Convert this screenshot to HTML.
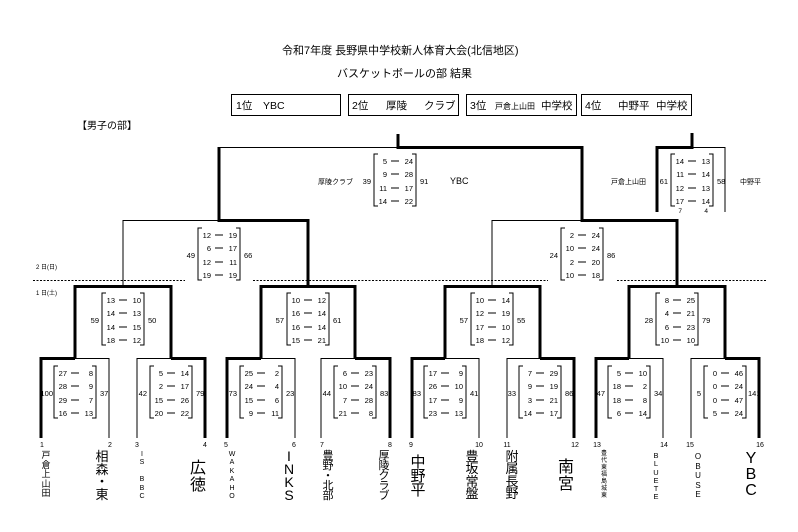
<!DOCTYPE html>
<html><head><meta charset="utf-8"><style>
html,body{margin:0;padding:0;background:#fff;}
body{width:798px;height:532px;position:relative;overflow:hidden;font-family:"Liberation Sans","Noto Sans CJK JP",sans-serif;color:#000;}
svg{position:absolute;left:0;top:0;}
.v{position:absolute;text-align:center;transform:translateX(-50%);white-space:nowrap;}
</style></head><body>
<svg width="798" height="532" viewBox="0 0 798 532" font-family="Liberation Sans, Noto Sans CJK JP, sans-serif">
<defs>
<g id="br"><path d="M4 0H0V52H4M38 0H42V52H38" fill="none" stroke="#000" stroke-width="1"/>
<path d="M17 7H25M17 20H25M17 34H25M17 47H25" stroke="#000" stroke-width="1"/></g>
</defs>
<text x="282" y="54" font-size="11">令和7年度  長野県中学校新人体育大会(北信地区)</text>
<text x="337" y="77" font-size="11">バスケットボールの部  結果</text>
<g fill="none" stroke="#000" stroke-width="1">
<rect x="231.5" y="94.5" width="109" height="21"/>
<rect x="348.5" y="94.5" width="110" height="21"/>
<rect x="466.5" y="94.5" width="110" height="21"/>
<rect x="581.5" y="94.5" width="110" height="21"/>
</g>
<g font-size="10.5">
<text x="236" y="109">1位</text><text x="263" y="109">YBC</text>
<text x="352" y="109">2位</text><text x="386" y="109">厚陵</text><text x="424" y="109">クラブ</text>
<text x="470" y="109">3位</text><text x="495" y="109" font-size="8">戸倉上山田</text><text x="541" y="109">中学校</text>
<text x="585" y="109">4位</text><text x="618" y="109">中野平</text><text x="656" y="109">中学校</text>
</g>
<text x="77" y="129" font-size="10">【男子の部】</text>
<text x="36" y="269" font-size="6">2  日(日)</text>
<text x="36" y="295" font-size="6">1  日(土)</text>
<g stroke="#000" stroke-width="1" stroke-dasharray="2,1.5">
<path d="M33 280.5H185M253 280.5H548M617 280.5H767"/>
</g>
<g fill="none" stroke="#000" stroke-width="1">
<path d="M75 358.5H109V438"/>
<path d="M137 438V358.5H171"/>
<path d="M261 358.5H295V438"/>
<path d="M321 438V358.5H355"/>
<path d="M445 358.5H479V438"/>
<path d="M507 438V358.5H540"/>
<path d="M629 358.5H663V438"/>
<path d="M691 438V358.5H725"/>
<path d="M123 286V220.5H219"/>
<path d="M492 286V220.5H582"/>
<path d="M219 147.5H398"/>
<path d="M692 147.5H725V212"/>
</g>
<g fill="none" stroke="#000" stroke-width="3">
<path d="M41 438V358.5H75"/>
<path d="M205 438V358.5H171"/>
<path d="M227 438V358.5H261"/>
<path d="M390 438V358.5H355"/>
<path d="M412 438V358.5H445"/>
<path d="M574 438V358.5H540"/>
<path d="M596 438V358.5H629"/>
<path d="M759 438V358.5H725"/>
<path d="M75 358V286.5H171V358"/>
<path d="M261 358V286.5H355V358"/>
<path d="M445 358V286.5H540V358"/>
<path d="M629 358V286.5H725V358"/>
<path d="M308 286V220.5H219V147"/>
<path d="M677 286V220.5H582V147.5H398V134"/>
<path d="M657 212V147.5H692V133"/>
</g>
<g font-size="7.5">
<g transform="translate(54,366)"><use href="#br"/><g text-anchor="end"><text x="13" y="10">27</text><text x="13" y="23">28</text><text x="13" y="37">29</text><text x="13" y="50">16</text><text x="39" y="10">8</text><text x="39" y="23">9</text><text x="39" y="37">7</text><text x="39" y="50">13</text><text x="-1" y="30">100</text></g><text x="46" y="30">37</text></g>
<g transform="translate(150,366)"><use href="#br"/><g text-anchor="end"><text x="13" y="10">5</text><text x="13" y="23">2</text><text x="13" y="37">15</text><text x="13" y="50">20</text><text x="39" y="10">14</text><text x="39" y="23">17</text><text x="39" y="37">26</text><text x="39" y="50">22</text><text x="-3" y="30">42</text></g><text x="46" y="30">79</text></g>
<g transform="translate(240,366)"><use href="#br"/><g text-anchor="end"><text x="13" y="10">25</text><text x="13" y="23">24</text><text x="13" y="37">15</text><text x="13" y="50">9</text><text x="39" y="10">2</text><text x="39" y="23">4</text><text x="39" y="37">6</text><text x="39" y="50">11</text><text x="-3" y="30">73</text></g><text x="46" y="30">23</text></g>
<g transform="translate(334,366)"><use href="#br"/><g text-anchor="end"><text x="13" y="10">6</text><text x="13" y="23">10</text><text x="13" y="37">7</text><text x="13" y="50">21</text><text x="39" y="10">23</text><text x="39" y="23">24</text><text x="39" y="37">28</text><text x="39" y="50">8</text><text x="-3" y="30">44</text></g><text x="46" y="30">83</text></g>
<g transform="translate(424,366)"><use href="#br"/><g text-anchor="end"><text x="13" y="10">17</text><text x="13" y="23">26</text><text x="13" y="37">17</text><text x="13" y="50">23</text><text x="39" y="10">9</text><text x="39" y="23">10</text><text x="39" y="37">9</text><text x="39" y="50">13</text><text x="-3" y="30">83</text></g><text x="46" y="30">41</text></g>
<g transform="translate(519,366)"><use href="#br"/><g text-anchor="end"><text x="13" y="10">7</text><text x="13" y="23">9</text><text x="13" y="37">3</text><text x="13" y="50">14</text><text x="39" y="10">29</text><text x="39" y="23">19</text><text x="39" y="37">21</text><text x="39" y="50">17</text><text x="-3" y="30">33</text></g><text x="46" y="30">86</text></g>
<g transform="translate(608,366)"><use href="#br"/><g text-anchor="end"><text x="13" y="10">5</text><text x="13" y="23">18</text><text x="13" y="37">18</text><text x="13" y="50">6</text><text x="39" y="10">10</text><text x="39" y="23">2</text><text x="39" y="37">8</text><text x="39" y="50">14</text><text x="-3" y="30">47</text></g><text x="46" y="30">34</text></g>
<g transform="translate(704,366)"><use href="#br"/><g text-anchor="end"><text x="13" y="10">0</text><text x="13" y="23">0</text><text x="13" y="37">0</text><text x="13" y="50">5</text><text x="39" y="10">46</text><text x="39" y="23">24</text><text x="39" y="37">47</text><text x="39" y="50">24</text><text x="-3" y="30">5</text></g><text x="44" y="30">141</text></g>
<g transform="translate(102,293)"><use href="#br"/><g text-anchor="end"><text x="13" y="10">13</text><text x="13" y="23">14</text><text x="13" y="37">14</text><text x="13" y="50">18</text><text x="39" y="10">10</text><text x="39" y="23">13</text><text x="39" y="37">15</text><text x="39" y="50">12</text><text x="-3" y="30">59</text></g><text x="46" y="30">50</text></g>
<g transform="translate(287,293)"><use href="#br"/><g text-anchor="end"><text x="13" y="10">10</text><text x="13" y="23">16</text><text x="13" y="37">16</text><text x="13" y="50">15</text><text x="39" y="10">12</text><text x="39" y="23">14</text><text x="39" y="37">14</text><text x="39" y="50">21</text><text x="-3" y="30">57</text></g><text x="46" y="30">61</text></g>
<g transform="translate(471,293)"><use href="#br"/><g text-anchor="end"><text x="13" y="10">10</text><text x="13" y="23">12</text><text x="13" y="37">17</text><text x="13" y="50">18</text><text x="39" y="10">14</text><text x="39" y="23">19</text><text x="39" y="37">10</text><text x="39" y="50">12</text><text x="-3" y="30">57</text></g><text x="46" y="30">55</text></g>
<g transform="translate(656,293)"><use href="#br"/><g text-anchor="end"><text x="13" y="10">8</text><text x="13" y="23">4</text><text x="13" y="37">6</text><text x="13" y="50">10</text><text x="39" y="10">25</text><text x="39" y="23">21</text><text x="39" y="37">23</text><text x="39" y="50">10</text><text x="-3" y="30">28</text></g><text x="46" y="30">79</text></g>
<g transform="translate(198,228)"><use href="#br"/><g text-anchor="end"><text x="13" y="10">12</text><text x="13" y="23">6</text><text x="13" y="37">12</text><text x="13" y="50">19</text><text x="39" y="10">19</text><text x="39" y="23">17</text><text x="39" y="37">11</text><text x="39" y="50">19</text><text x="-3" y="30">49</text></g><text x="46" y="30">66</text></g>
<g transform="translate(561,228)"><use href="#br"/><g text-anchor="end"><text x="13" y="10">2</text><text x="13" y="23">10</text><text x="13" y="37">2</text><text x="13" y="50">10</text><text x="39" y="10">24</text><text x="39" y="23">24</text><text x="39" y="37">20</text><text x="39" y="50">18</text><text x="-3" y="30">24</text></g><text x="46" y="30">86</text></g>
<g transform="translate(374,154)"><use href="#br"/><g text-anchor="end"><text x="13" y="10">5</text><text x="13" y="23">9</text><text x="13" y="37">11</text><text x="13" y="50">14</text><text x="39" y="10">24</text><text x="39" y="23">28</text><text x="39" y="37">17</text><text x="39" y="50">22</text><text x="-3" y="30">39</text></g><text x="46" y="30">91</text></g>
<text x="318" y="184" font-size="7">厚陵クラブ</text>
<text x="450" y="184" font-size="9">YBC</text>
<g transform="translate(671,154)"><use href="#br"/><g text-anchor="end"><text x="13" y="10">14</text><text x="13" y="23">11</text><text x="13" y="37">12</text><text x="13" y="50">17</text><text x="39" y="10">13</text><text x="39" y="23">14</text><text x="39" y="37">13</text><text x="39" y="50">14</text><text x="-3" y="30">61</text></g><text x="46" y="30">58</text>
<text x="11" y="59" font-size="6.5" text-anchor="end">7</text><text x="37" y="59" font-size="6.5" text-anchor="end">4</text></g>
<text x="611" y="184" font-size="7">戸倉上山田</text>
<text x="740" y="184" font-size="7">中野平</text>
</g>
<g font-size="7" text-anchor="middle">
<text x="42" y="447">1</text><text x="110" y="447">2</text><text x="137" y="447">3</text><text x="205" y="447">4</text>
<text x="226" y="447">5</text><text x="294" y="447">6</text><text x="322" y="447">7</text><text x="390" y="447">8</text>
<text x="411" y="447">9</text><text x="479" y="447">10</text><text x="507" y="447">11</text><text x="575" y="447">12</text>
<text x="597" y="447">13</text><text x="664" y="447">14</text><text x="690" y="447">15</text><text x="760" y="447">16</text>
</g>
</svg>
<div class="v" style="left:46px;top:451px;font-size:9px;line-height:9.5px;">戸<br>倉<br>上<br>山<br>田</div>
<div class="v" style="left:102px;top:451px;font-size:13px;line-height:12.5px;">相<br>森<br>・<br>東</div>
<div class="v" style="left:142px;top:451px;font-size:7px;line-height:8.4px;">I<br>S<br>&nbsp;<br>B<br>B<br>C</div>
<div class="v" style="left:198px;top:460px;font-size:16px;line-height:17px;">広<br>徳</div>
<div class="v" style="left:232px;top:451px;font-size:7px;line-height:8.4px;">W<br>A<br>K<br>A<br>H<br>O</div>
<div class="v" style="left:289px;top:450px;font-size:14px;line-height:13px;">I<br>N<br>K<br>S</div>
<div class="v" style="left:328px;top:451px;font-size:11px;line-height:10px;">豊<br>野<br>・<br>北<br>部</div>
<div class="v" style="left:384px;top:451px;font-size:11px;line-height:10px;">厚<br>陵<br>ク<br>ラ<br>ブ</div>
<div class="v" style="left:418px;top:456px;font-size:15px;line-height:14px;">中<br>野<br>平</div>
<div class="v" style="left:472px;top:451px;font-size:13px;line-height:12.3px;">豊<br>坂<br>常<br>盤</div>
<div class="v" style="left:512px;top:451px;font-size:13px;line-height:12.3px;">附<br>属<br>長<br>野</div>
<div class="v" style="left:566px;top:459px;font-size:16px;line-height:17px;">南<br>宮</div>
<div class="v" style="left:604px;top:451px;font-size:6px;line-height:7px;">豊<br>代<br>東<br>福<br>島<br>城<br>東</div>
<div class="v" style="left:656px;top:452px;font-size:7.5px;line-height:8.3px;">B<br>L<br>U<br>E<br>T<br>E</div>
<div class="v" style="left:698px;top:452px;font-size:8px;line-height:9.5px;">O<br>B<br>U<br>S<br>E</div>
<div class="v" style="left:751px;top:451px;font-size:16px;line-height:16px;">Y<br>B<br>C</div>
</body></html>
